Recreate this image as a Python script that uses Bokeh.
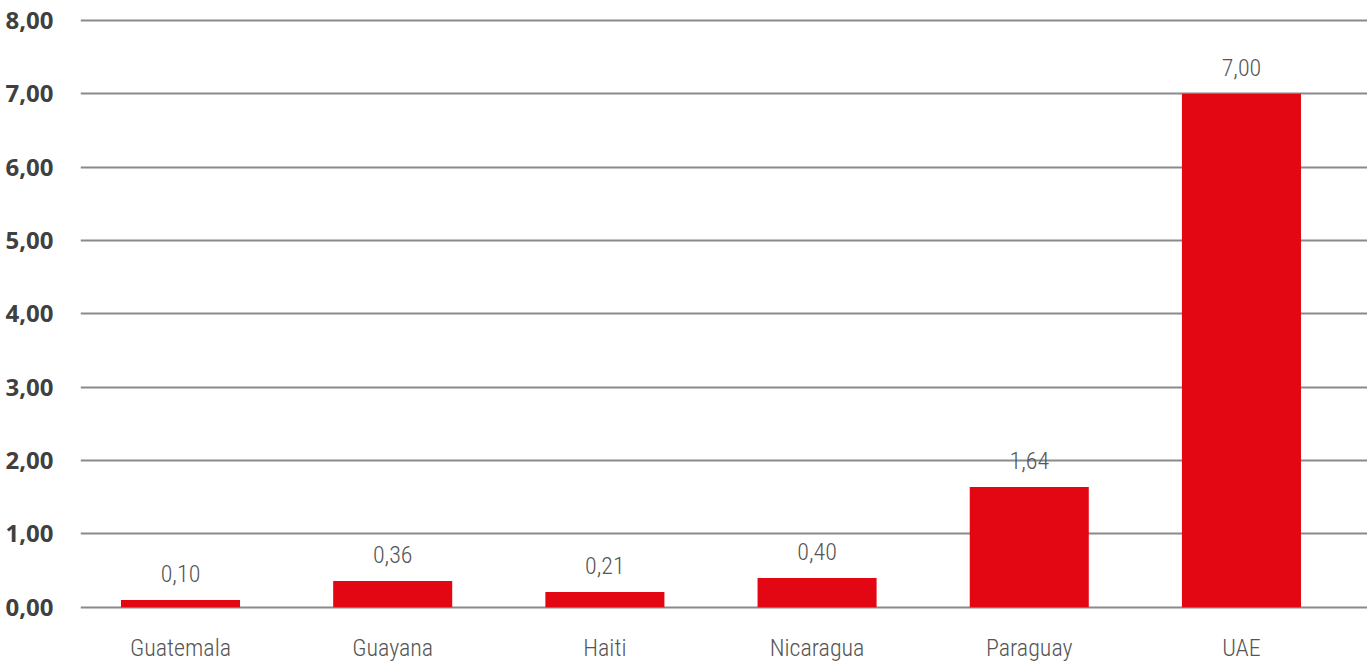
from bokeh.plotting import figure
from bokeh.models import ColumnDataSource, Range1d, FixedTicker
from bokeh.embed import file_html
from bokeh.resources import INLINE

# Chart data
categories = ["Guatemala", "Guayana", "Haiti", "Nicaragua", "Paraguay", "UAE"]
values = [0.10, 0.36, 0.21, 0.40, 1.64, 7.00]
y_ticks = [0, 1, 2, 3, 4, 5, 6, 7, 8]
y_tick_labels = ["0,00", "1,00", "2,00", "3,00", "4,00", "5,00", "6,00", "7,00", "8,00"]

NARROW = "'Roboto Condensed Light', 'Roboto Condensed', 'DejaVu Sans Condensed', sans-serif"
BAR_RED = "#E30613"
TEXT_GREY = "#555555"

xs = list(range(len(categories)))
labels = [f"{v:.2f}".replace(".", ",") for v in values]
source = ColumnDataSource(dict(x=xs, top=values, label=labels))

p = figure(
    width=1367, height=664,
    x_range=Range1d(-0.4713, 5.594),
    y_range=Range1d(-0.03, 8.12),
    output_backend="svg", toolbar_location=None,
    min_border_left=80, min_border_right=0,
    min_border_top=11, min_border_bottom=54,
)
p.outline_line_color = None
p.background_fill_color = "white"
p.border_fill_color = "white"

p.vbar(x="x", top="top", bottom=0, width=0.561, source=source,
       fill_color=BAR_RED, line_color=None)

# value labels above bars
p.text(x="x", y="top", text="label", source=source,
       text_align="center", text_baseline="alphabetic", y_offset=-26,
       text_font_size="24px", text_color=TEXT_GREY, text_font={"value": NARROW})

# y axis: bold labels, no line or ticks
p.yaxis.ticker = FixedTicker(ticks=y_ticks)
p.yaxis.major_label_overrides = {t: s for t, s in zip(y_ticks, y_tick_labels)}
p.yaxis.axis_line_color = None
p.yaxis.major_tick_line_color = None
p.yaxis.minor_tick_line_color = None
p.yaxis.major_tick_out = 0
p.yaxis.major_label_standoff = 27
p.yaxis.major_label_text_font = "Open Sans"
p.yaxis.major_label_text_font_style = "bold"
p.yaxis.major_label_text_font_size = "24px"
p.yaxis.major_label_text_color = "#404040"

# x axis: category names under the bars
p.xaxis.ticker = FixedTicker(ticks=xs)
p.xaxis.major_label_overrides = {i: c for i, c in zip(xs, categories)}
p.xaxis.axis_line_color = None
p.xaxis.major_tick_line_color = None
p.xaxis.minor_tick_line_color = None
p.xaxis.major_tick_out = 0
p.xaxis.major_label_standoff = 24
p.xaxis.major_label_text_font = NARROW
p.xaxis.major_label_text_font_size = "24px"
p.xaxis.major_label_text_color = TEXT_GREY

p.xgrid.grid_line_color = None
p.ygrid.ticker = FixedTicker(ticks=y_ticks)
p.ygrid.grid_line_color = "#8a8a8a"
p.ygrid.grid_line_width = 2

open("out.html", "w").write(file_html(p, INLINE))
